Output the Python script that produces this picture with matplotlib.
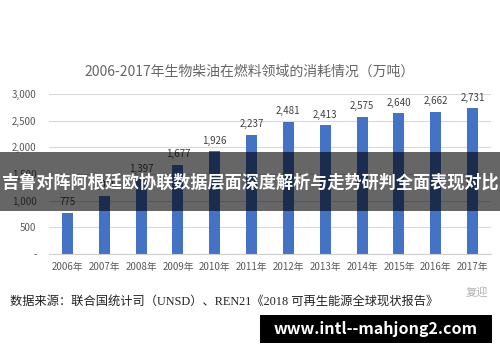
import matplotlib
matplotlib.use('Agg')
import matplotlib.pyplot as plt
from matplotlib.patches import Rectangle

plt.rcParams['font.family'] = ['Noto Sans CJK SC', 'DejaVu Sans']

# data
years = ['2006年', '2007年', '2008年', '2009年', '2010年', '2011年',
         '2012年', '2013年', '2014年', '2015年', '2016年', '2017年']
values = [775, 1090, 1397, 1677, 1926, 2237, 2481, 2413, 2575, 2640, 2662, 2731]
yticks = [0, 500, 1000, 1500, 2000, 2500, 3000]
ytick_labels = ['-', '500', '1,000', '1,500', '2,000', '2,500', '3,000']

title = '2006-2017年生物柴油在燃料领域的消耗情况（万吨）'
source = '数据来源：联合国统计司（UNSD）、REN21《2018 可再生能源全球现状报告》'
banner = '吉鲁对阵阿根廷欧协联数据层面深度解析与走势研判全面表现对比'
site = 'www.intl--mahjong2.com'

W, H = 500, 362
fig = plt.figure(figsize=(W / 100, H / 100), dpi=100)
fig.patch.set_facecolor('white')

ax = fig.add_axes([49 / W, 1 - 254 / H, 442 / W, 160 / H])
x = list(range(len(years)))
ax.bar(x, values, width=0.3, color='#4472C4', zorder=2)
for xi, v in zip(x, values):
    ax.annotate(f'{v:,}', (xi, v), xytext=(0, 4), textcoords='offset points',
                ha='center', va='bottom', fontsize=7, color='#404040')

ax.set_xlim(-0.5, len(years) - 0.5)
ax.set_ylim(0, 3000)
ax.set_yticks(yticks)
ax.set_yticklabels(ytick_labels)
ax.set_xticks(x)
ax.set_xticklabels(years)
ax.tick_params(axis='both', length=0, labelsize=7, colors='#595959')
ax.tick_params(axis='y', pad=9)
ax.tick_params(axis='x', pad=6)
ax.yaxis.grid(True, color='#d9d9d9', linewidth=0.8, zorder=0)
for s in ['top', 'right', 'left']:
    ax.spines[s].set_visible(False)
ax.spines['bottom'].set_color('#d0d0d0')
ax.set_axisbelow(True)

fig.text(0.5, 1 - 72 / H, title, ha='center', va='center', fontsize=10, color='#666666')

# overlay banner
fig.add_artist(Rectangle((0, 1 - 211 / H), 1, 59 / H, transform=fig.transFigure,
                         facecolor='black', alpha=0.6, edgecolor='none', zorder=5))
fig.text(0.5, 1 - 183 / H, banner, ha='center', va='center', fontsize=12.3,
         fontweight='bold', color='white', zorder=6)

# source line
fig.text(10 / W, 1 - 303 / H, source, ha='left', va='center', fontsize=8.8,
         color='#222222', family=['Liberation Serif', 'Noto Sans CJK SC'])
fig.text(488 / W, 1 - 292 / H, '复迎', ha='right', va='center', fontsize=8, color='#b0b0b0')

# site box
fig.add_artist(Rectangle((260 / W, 1 - 343 / H), 232 / W, 28 / H, transform=fig.transFigure,
                         facecolor='black', edgecolor='none', zorder=5))
fig.text(376 / W, 1 - 329 / H, site, ha='center', va='center', fontsize=11.5,
         fontweight='bold', color='white', zorder=6)

fig.savefig('out.png', dpi=100)
